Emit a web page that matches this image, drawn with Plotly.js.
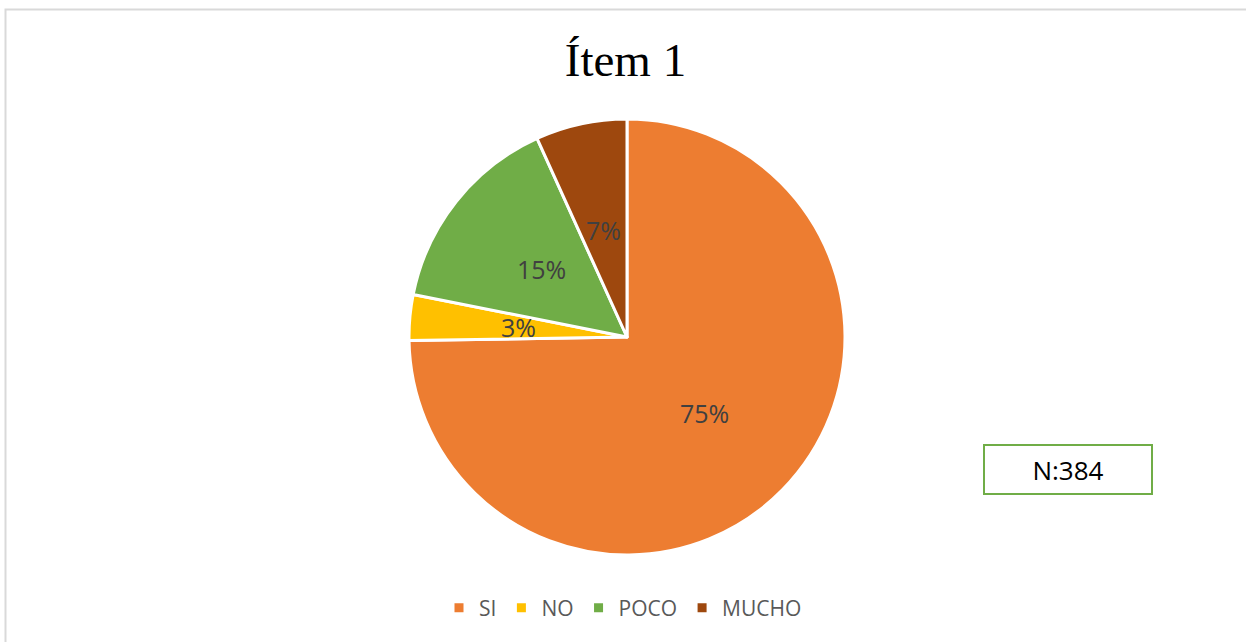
<!DOCTYPE html>
<html>
<head>
<meta charset="utf-8">
<script src="https://cdn.plot.ly/plotly-3.0.1.min.js"></script>
<style>html,body{margin:0;padding:0;background:#fff;}#chart{width:1246px;height:642px;}</style>
</head>
<body>
<div id="chart"></div>
<script>
// Data
const categories = ['SI', 'NO', 'POCO', 'MUCHO'];
const counts = [287, 13, 58, 26];
const sliceColors = ['#ED7D31', '#FFC000', '#70AD47', '#9E480E'];
const chartTitle = 'Ítem 1';
const sampleNote = 'N:384';

const W = 1246, H = 642;
const domX = [409 / W, 845 / W];
const domY = [1 - 555 / H, 1 - 119 / H];

// Label positions derived from the data: half the radius along each slice's mid-angle
const total = counts.reduce((a, b) => a + b, 0);
const cxPx = (domX[0] + domX[1]) / 2 * W;
const cyPx = (1 - (domY[0] + domY[1]) / 2) * H;
const rPx = Math.min((domX[1] - domX[0]) * W, (domY[1] - domY[0]) * H) / 2;
let acc = 0;
const labelAnns = counts.map((v, i) => {
  const mid = (acc + v / 2) / total * 2 * Math.PI; // clockwise from 12 o'clock
  acc += v;
  const px = cxPx + Math.sin(mid) * rPx * 0.5;
  const py = cyPx - Math.cos(mid) * rPx * 0.5;
  return {
    x: px / W, y: 1 - py / H, xref: 'paper', yref: 'paper',
    text: Math.round(v / total * 100) + '%', showarrow: false,
    xanchor: 'center', yanchor: 'middle',
    font: {family: 'Open Sans, sans-serif', size: 25, color: '#404040'}
  };
});

const trace = {
  type: 'pie',
  labels: categories,
  values: counts,
  sort: false,
  direction: 'clockwise',
  rotation: 0,
  textinfo: 'none',
  hoverinfo: 'label+percent',
  marker: {colors: sliceColors, line: {color: '#FFFFFF', width: 3}},
  domain: {x: domX, y: domY}
};

const layout = {
  width: W, height: H,
  margin: {l: 0, r: 0, t: 0, b: 0},
  paper_bgcolor: '#FFFFFF',
  title: {
    text: chartTitle,
    font: {family: 'Liberation Serif, Times New Roman, serif', size: 47, color: '#000000'},
    x: 0.502, xanchor: 'center', y: 1 - 60 / H, yanchor: 'middle', yref: 'container'
  },
  showlegend: true,
  legend: {
    orientation: 'h', x: 0.5, xanchor: 'center', y: 1 - 608 / H, yanchor: 'middle',
    font: {family: 'Open Sans, sans-serif', size: 21, color: '#595959'},
    traceorder: 'normal'
  },
  annotations: labelAnns.concat([{
    x: 1068 / W, y: 1 - 469 / H, xref: 'paper', yref: 'paper',
    text: sampleNote, showarrow: false, xanchor: 'center', yanchor: 'middle',
    width: 166, height: 47, bordercolor: '#70AD47', borderwidth: 2, borderpad: 0,
    bgcolor: '#FFFFFF',
    font: {family: 'Open Sans, sans-serif', size: 26, color: '#000000'}
  }]),
  shapes: [{
    type: 'rect', xref: 'paper', yref: 'paper',
    x0: 5.5 / W, x1: 1.02, y0: -0.02, y1: 1 - 9.5 / H,
    line: {color: '#D9D9D9', width: 2}, fillcolor: 'rgba(0,0,0,0)'
  }]
};

Plotly.newPlot('chart', [trace], layout, {displayModeBar: false, staticPlot: true});
</script>
</body>
</html>
